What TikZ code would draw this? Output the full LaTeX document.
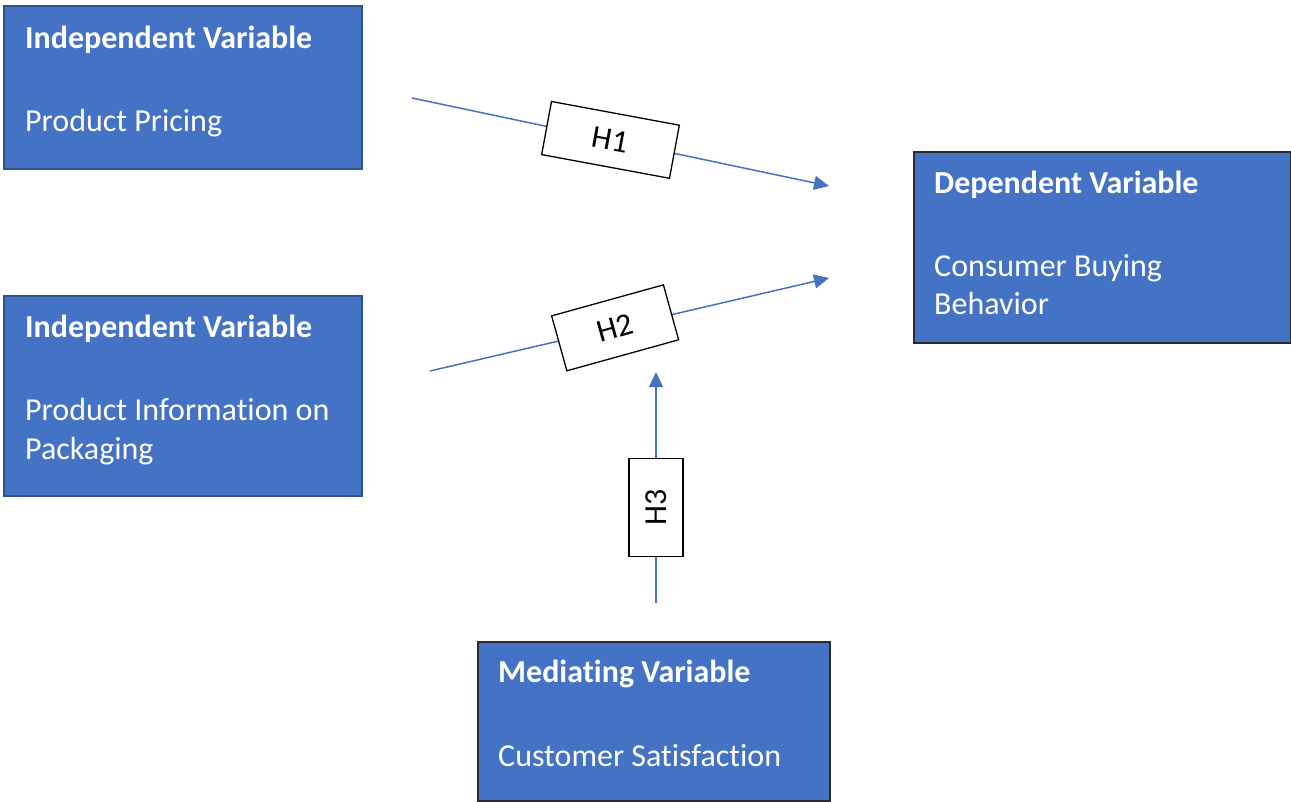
\documentclass[tikz,border=0pt]{standalone}
\usepackage{fontspec}
\setmainfont{Carlito}[Ligatures=NoCommon]
\usetikzlibrary{arrows.meta}
\definecolor{boxblue}{HTML}{4472C4}
\definecolor{boxedge}{HTML}{2F528F}
\definecolor{darkedge}{HTML}{2B2B2B}
\tikzset{
  varbox/.style={rectangle, draw=boxedge, line width=2pt, fill=boxblue, inner sep=0pt, anchor=north west},
  vartext/.style={anchor=base west, text=white, inner sep=0pt, font=\fontsize{32}{38}\selectfont},
  vartitle/.style={vartext, font=\fontsize{32}{38}\selectfont\bfseries},
  conn/.style={draw=boxblue, line width=1.5pt, -{Triangle[length=15pt,width=14pt]}},
  hbox/.style={rectangle, draw=black, line width=1.3pt, fill=white, inner sep=0pt, font=\fontsize{32}{36}\selectfont}
}
\begin{document}
\begin{tikzpicture}[x=1pt,y=-1pt]
\useasboundingbox (0,0) rectangle (1291,802);
% boxes
\node[varbox, minimum width=358pt, minimum height=163pt] (iv1) at (3,5) {};
\node[varbox, minimum width=358pt, minimum height=200pt] (iv2) at (3,295) {};
\node[varbox, draw=darkedge, minimum width=377pt, minimum height=191pt] (dv) at (913,151) {};
\node[varbox, draw=darkedge, minimum width=352pt, minimum height=159pt] (mv) at (477,641) {};
% texts
\node[vartitle] (iv1t) at (25,49) {Independent Variable};
\node[vartext] (iv1b) at (25,132) {Product Pricing};
\node[vartitle] (iv2t) at (25,338) {Independent Variable};
\node[vartext] (iv2b) at (25,420) {Product Information on};
\node[vartext] (iv2c) at (25,459) {Packaging};
\node[vartitle] (dvt) at (934,194) {Dependent Variable};
\node[vartext] (dvb) at (934,277) {Consumer Buying};
\node[vartext] (dvc) at (934,315) {Behavior};
\node[vartitle] (mvt) at (498,682) {Mediating Variable};
\node[vartext] (mvb) at (498,766) {Customer Satisfaction};
% connector ends
\coordinate (h1s) at (412,98);
\coordinate (h1e) at (829,186);
\coordinate (h2s) at (430,371);
\coordinate (h2e) at (829,278);
\coordinate (h3s) at (656,603);
\coordinate (h3e) at (656,372);
% connectors
\draw[conn] (h1s) -- node[hbox, pos=0.476, rotate=-10.5, minimum width=130pt, minimum height=54pt] (h1) {H1} (h1e);
\draw[conn] (h2s) -- node[hbox, pos=0.464, rotate=15.5, minimum width=116pt, minimum height=57pt] (h2) {H2} (h2e);
\draw[conn] (h3s) -- node[hbox, pos=0.413, rotate=90, minimum width=98pt, minimum height=54pt] (h3) {H3} (h3e);
\end{tikzpicture}
\end{document}
